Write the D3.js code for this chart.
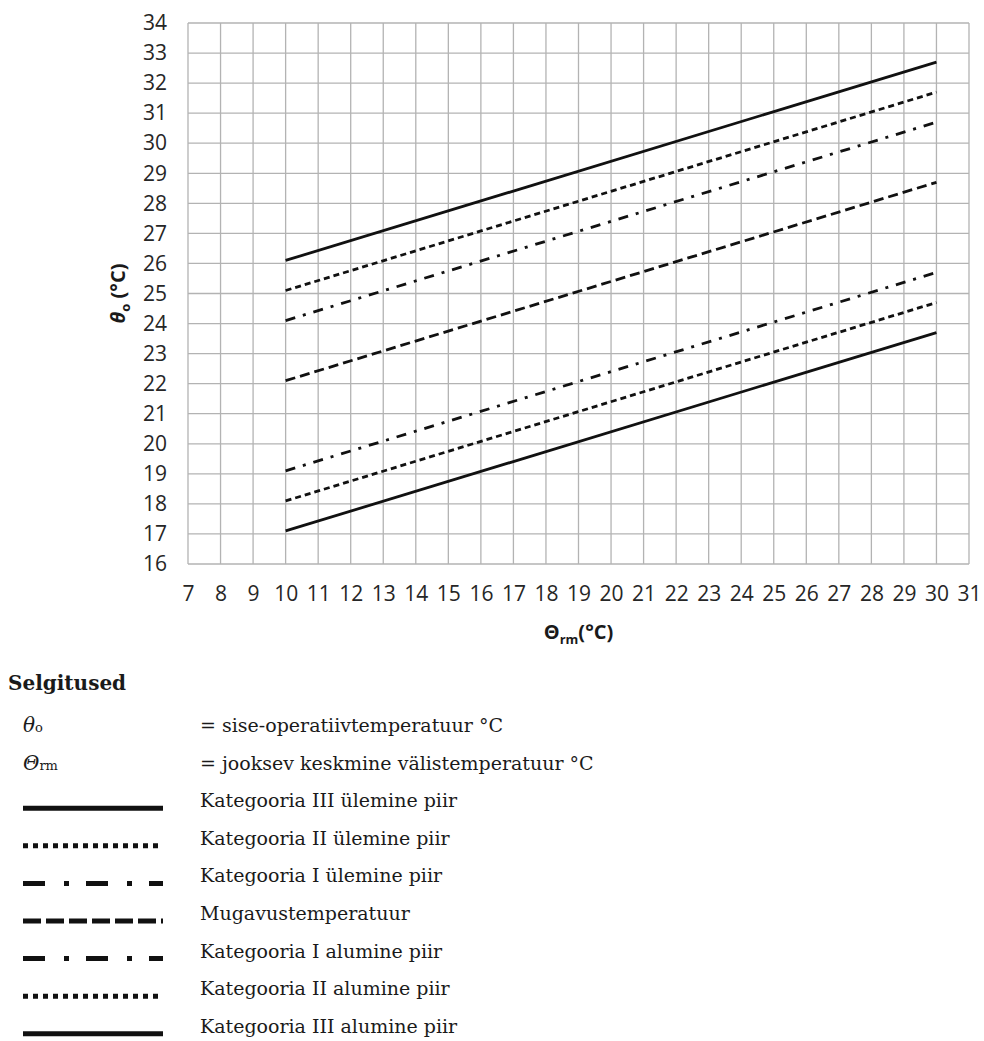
<!DOCTYPE html>
<html>
<head>
<meta charset="utf-8">
<script src="https://cdn.jsdelivr.net/npm/d3@7"></script>
<style>
  body { margin: 0; background: #fff; }
</style>
</head>
<body>
<div id="chart"></div>
<script>
// running mean outdoor temperature (x) at start and end of each line
const xRange = [10, 30];

// operative temperature limits at x = 10 and x = 30
const catIIIUpper = [26.1, 32.7];
const catIIUpper = [25.1, 31.7];
const catIUpper = [24.1, 30.7];
const comfort = [22.1, 28.7];
const catILower = [19.1, 25.7];
const catIILower = [18.1, 24.7];
const catIIILower = [17.1, 23.7];

const xTicks = [7, 8, 9, 10, 11, 12, 13, 14, 15, 16, 17, 18, 19, 20, 21, 22, 23, 24, 25, 26, 27, 28, 29, 30, 31];
const yTicks = [16, 17, 18, 19, 20, 21, 22, 23, 24, 25, 26, 27, 28, 29, 30, 31, 32, 33, 34];

const legendLabels = [
  "Kategooria III ülemine piir",
  "Kategooria II ülemine piir",
  "Kategooria I ülemine piir",
  "Mugavustemperatuur",
  "Kategooria I alumine piir",
  "Kategooria II alumine piir",
  "Kategooria III alumine piir",
];

const width = 984;
const height = 1041;
const margin = { top: 23, right: 15, left: 188 };
const plotBottom = 564;

const series = [
  { values: catIIIUpper, dash: null, legendDash: null },
  { values: catIIUpper, dash: "6,4", legendDash: "5,5" },
  { values: catIUpper, dash: "10,8,3,8", legendDash: "22,19,5,17" },
  { values: comfort, dash: "10,5", legendDash: "18,5" },
  { values: catILower, dash: "10,8,3,8", legendDash: "22,19,5,17" },
  { values: catIILower, dash: "6,4", legendDash: "5,5" },
  { values: catIIILower, dash: null, legendDash: null },
];

const svg = d3
  .select("div#chart")
  .append("svg")
  .attr("width", width)
  .attr("height", height)
  .attr("viewBox", [0, 0, width, height]);

const x = d3
  .scaleLinear()
  .domain([xTicks[0], xTicks[xTicks.length - 1]])
  .range([margin.left, width - margin.right]);

const y = d3
  .scaleLinear()
  .domain([yTicks[0], yTicks[yTicks.length - 1]])
  .range([plotBottom, margin.top]);

const sans = "'Open Sans', 'Noto Sans', sans-serif";
const serif = "'DejaVu Serif', serif";

// grid
svg
  .append("g")
  .attr("stroke", "#b3b3b3")
  .attr("stroke-width", 1.3)
  .call((g) =>
    g
      .selectAll("line.v")
      .data(xTicks)
      .join("line")
      .attr("x1", (d) => x(d))
      .attr("x2", (d) => x(d))
      .attr("y1", y.range()[0])
      .attr("y2", y.range()[1])
  )
  .call((g) =>
    g
      .selectAll("line.h")
      .data(yTicks)
      .join("line")
      .attr("x1", x.range()[0])
      .attr("x2", x.range()[1])
      .attr("y1", (d) => y(d))
      .attr("y2", (d) => y(d))
  );

// x-axis labels
svg
  .append("g")
  .attr("transform", `translate(0,${plotBottom})`)
  .call(d3.axisBottom(x).tickValues(xTicks).tickSize(0).tickPadding(22))
  .call((g) => g.select(".domain").remove())
  .call((g) =>
    g.selectAll("text").attr("font-family", sans).attr("font-size", 21).attr("fill", "#262626")
  );

// y-axis labels
svg
  .append("g")
  .attr("transform", `translate(${margin.left},0)`)
  .call(d3.axisLeft(y).tickValues(yTicks).tickSize(0).tickPadding(21))
  .call((g) => g.select(".domain").remove())
  .call((g) =>
    g.selectAll("text").attr("font-family", sans).attr("font-size", 21).attr("fill", "#262626")
  );

// axis titles
const xTitle = svg
  .append("text")
  .attr("x", (x.range()[0] + x.range()[1]) / 2)
  .attr("y", 639)
  .attr("text-anchor", "middle")
  .attr("font-family", sans)
  .attr("font-size", 20)
  .attr("font-weight", "bold")
  .attr("fill", "#1a1a1a");
xTitle.append("tspan").text("Θ");
xTitle.append("tspan").attr("font-size", 13).attr("dy", 5).text("rm");
xTitle.append("tspan").attr("dy", -5).text("(°C)");

const yTitle = svg
  .append("text")
  .attr("transform", `translate(125,${(y.range()[0] + y.range()[1]) / 2}) rotate(-90)`)
  .attr("text-anchor", "middle")
  .attr("font-family", sans)
  .attr("font-size", 20)
  .attr("font-weight", "bold")
  .attr("fill", "#1a1a1a");
yTitle.append("tspan").attr("font-style", "italic").text("θ");
yTitle.append("tspan").attr("font-size", 13).attr("dy", 5).text("o");
yTitle.append("tspan").attr("dy", -5).text(" (°C)");

// limit lines
const line = d3
  .line()
  .x((d) => x(d[0]))
  .y((d) => y(d[1]));

svg
  .append("g")
  .selectAll("path")
  .data(series)
  .join("path")
  .attr("fill", "none")
  .attr("stroke", "#111")
  .attr("stroke-width", 2.8)
  .attr("stroke-dasharray", (d) => d.dash)
  .attr("d", (d) => line(xRange.map((v, i) => [v, d.values[i]])));

// legend
const legend = svg.append("g").attr("font-family", serif).attr("fill", "#1a1a1a");

legend
  .append("text")
  .attr("x", 8)
  .attr("y", 690)
  .attr("font-size", 20)
  .attr("font-weight", "bold")
  .text("Selgitused");

const rowY = (i) => 732 + i * 37.6;
const textX = 200;

const sym1 = legend.append("text").attr("x", 23).attr("y", rowY(0)).attr("font-size", 20);
sym1.append("tspan").attr("font-style", "italic").text("θ");
sym1.append("tspan").attr("font-size", 13).text("o");
legend.append("text").attr("x", textX).attr("y", rowY(0)).attr("font-size", 19).text("= sise-operatiivtemperatuur °C");

const sym2 = legend.append("text").attr("x", 23).attr("y", rowY(1)).attr("font-size", 20);
sym2.append("tspan").attr("font-style", "italic").text("Θ");
sym2.append("tspan").attr("font-size", 13).text("rm");
legend.append("text").attr("x", textX).attr("y", rowY(1)).attr("font-size", 19).text("= jooksev keskmine välistemperatuur °C");

const items = legend
  .selectAll("g.item")
  .data(series)
  .join("g")
  .attr("transform", (d, i) => `translate(0,${rowY(i + 2)})`);

items
  .append("line")
  .attr("x1", 23)
  .attr("x2", 163)
  .attr("y1", 1)
  .attr("y2", 1)
  .attr("stroke", "#111")
  .attr("stroke-width", 5)
  .attr("stroke-dasharray", (d) => d.legendDash);

items
  .append("text")
  .attr("x", textX)
  .attr("font-size", 19)
  .text((d, i) => legendLabels[i]);
</script>
</body>
</html>
